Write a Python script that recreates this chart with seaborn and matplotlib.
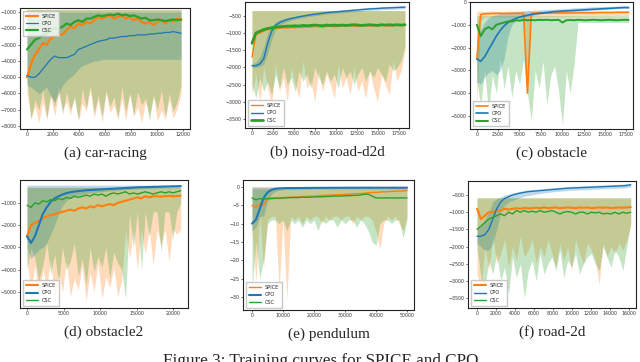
import numpy as np
import matplotlib
matplotlib.use("Agg")
import matplotlib.pyplot as plt
import seaborn as sns

C_SPICE, C_CPO, C_CSC = "#ff7f0e", "#1f77b4", "#2ca02c"
NAMES = ["SPICE", "CPO", "CSC"]

# ---------------- (a) car-racing ----------------
car_step = 304
car_spice = [-5000, -4200, -3600, -3300, -2900, -3000, -2600, -2500, -2300, -2400,
             -2100, -1900, -2000, -1700, -1800, -1600, -1700, -1500, -1300, -1400,
             -1300, -1200, -1400, -1300, -1200, -1400, -1300, -1500, -1400, -1600,
             -1700, -1600, -1800, -1600, -1500, -1700, -1500, -1600, -1400, -1500]
car_cpo = [-4900, -5000, -5000, -4800, -4500, -4200, -3900, -3700, -3800, -3800,
           -3800, -3700, -3600, -3300, -3200, -3100, -3000, -2900, -2800, -2750,
           -2700, -2600, -2600, -2550, -2500, -2500, -2450, -2450, -2400, -2400,
           -2400, -2350, -2350, -2300, -2300, -2250, -2250, -2200, -2250, -2300]
car_csc = [-3300, -3000, -2700, -2600, -2400, -2300, -2100, -2000, -2000, -1900,
           -1700, -1800, -1600, -1500, -1600, -1400, -1400, -1300, -1200, -1250,
           -1200, -1150, -1200, -1100, -1200, -1150, -1250, -1200, -1300, -1400,
           -1350, -1500, -1500, -1450, -1500, -1550, -1500, -1450, -1500, -1450]
car_spice_lo = [-6000, -7500, -6800, -7800, -6500, -7600, -6200, -7400, -6000, -7000,
                -6500, -7300, -6100, -7700, -6600, -7100, -5800, -7500, -6400, -7800,
                -6000, -7200, -6700, -7600, -6300, -7700, -6000, -7400, -6800, -7800,
                -6500, -7300, -6200, -7700, -7000, -7600, -6400, -7500, -6900, -6000]
car_cpo_lo = [-5500, -5600, -5800, -6000, -5800, -5600, -6200, -6500, -6000, -5500,
              -5200, -5000, -4800, -4500, -4300, -4200, -4100, -4000, -4000, -3900,
              -3900, -3900, -3900, -3900, -3900, -3900, -3900, -3900, -3900, -3900,
              -3900, -3900, -3900, -3900, -3900, -3900, -3900, -3900, -3900, -3900]
car_csc_lo = [-5200, -7600, -6400, -7000, -5800, -7500, -6000, -6800, -5600, -7300,
              -5900, -7000, -6300, -7600, -5700, -6900, -5500, -7200, -6100, -7400,
              -5800, -6800, -6200, -7500, -5600, -7100, -6000, -7300, -5900, -6700,
              -6300, -7700, -6100, -7000, -5800, -7400, -6000, -7100, -6500, -5500]
car_spice_hi, car_cpo_hi, car_csc_hi = -850, -1000, -850

# ---------------- (b) noisy-road-d2d ----------------
nrd_step = 467
nrd_spice = [-1700, -1050, -1000, -950, -900, -880, -870, -860, -850, -860,
             -840, -850, -830, -840, -820, -830, -810, -820, -830, -810,
             -800, -820, -810, -800, -810, -790, -800, -810, -800, -790,
             -800, -790, -800, -780, -790, -800, -790, -780, -790, -770]
nrd_cpo = [-1950, -1950, -1900, -1750, -1300, -950, -780, -700, -650, -610,
           -580, -555, -530, -510, -490, -470, -455, -440, -425, -410,
           -400, -390, -380, -370, -360, -350, -340, -330, -320, -310,
           -300, -295, -290, -280, -275, -270, -265, -260, -255, -250]
nrd_csc = [-1300, -1000, -950, -900, -870, -850, -830, -820, -810, -800,
           -800, -790, -800, -780, -790, -780, -770, -780, -790, -770,
           -780, -770, -780, -770, -780, -770, -760, -770, -780, -770,
           -760, -770, -780, -760, -770, -760, -770, -760, -770, -760]
nrd_spice_lo = [-2800, -2200, -3000, -2000, -2600, -3100, -1900, -2700, -2300, -3000,
                -2000, -2500, -2900, -1800, -2600, -2400, -3000, -2100, -2700, -2200,
                -2500, -2900, -1900, -2600, -2300, -2800, -2000, -2700, -2400, -2900,
                -2100, -2600, -3000, -2200, -2500, -2800, -1800, -2400, -2100, -1500]
nrd_cpo_lo = [-2000, -2000, -1980, -1900, -1600, -1200, -900, -780, -720, -670,
              -630, -600, -575, -555, -535, -515, -500, -485, -470, -455,
              -445, -435, -425, -415, -405, -395, -385, -375, -365, -355,
              -345, -340, -335, -325, -320, -315, -310, -305, -300, -295]
nrd_csc_lo = [-2500, -2900, -2300, -2700, -2400, -2800, -2200, -2600, -2000, -2500,
              -2300, -2700, -2100, -2400, -2200, -2600, -2000, -2300, -2500, -2100,
              -2400, -2200, -2600, -2000, -2300, -2100, -2500, -2200, -2000, -2400,
              -2100, -2300, -2000, -2200, -2400, -1900, -2100, -2000, -1800, -1400]
nrd_cpo_hi = [-1900, -1850, -1700, -1400, -1000, -800, -680, -620, -580, -550,
              -530, -510, -490, -465, -445, -425, -410, -395, -380, -365,
              -355, -345, -335, -325, -315, -305, -295, -285, -275, -265,
              -255, -250, -245, -235, -230, -225, -220, -215, -210, -205]
nrd_spice_hi, nrd_csc_hi = -350, -350

# ---------------- (c) obstacle ----------------
obs_step = 456
obs_spice = [-2500, -550, -520, -510, -500, -500, -500, -500, -500, -500,
             -500, -500, -500, -4000, -500, -490, -490, -490, -490, -490,
             -480, -480, -480, -480, -480, -480, -470, -470, -470, -470,
             -470, -460, -460, -460, -460, -460, -450, -450, -450, -450]
obs_cpo = [-2500, -2600, -2400, -2100, -1800, -1500, -1250, -1050, -900, -800,
           -720, -660, -620, -580, -550, -520, -500, -480, -460, -440,
           -420, -410, -400, -390, -380, -370, -360, -350, -340, -330,
           -320, -310, -300, -290, -280, -270, -260, -250, -240, -250]
obs_csc = [-1000, -1500, -1200, -1100, -1200, -1000, -950, -900, -850, -850,
           -800, -820, -780, -800, -790, -800, -780, -790, -780, -800,
           -790, -780, -900, -800, -790, -800, -780, -790, -800, -790,
           -780, -790, -800, -790, -780, -790, -800, -790, -780, -790]
obs_spice_lo = [-4500, -800, -650, -650, -650, -650, -650, -650, -650, -650,
                -650, -650, -650, -4000, -650, -640, -640, -640, -640, -640,
                -630, -630, -630, -630, -630, -630, -620, -620, -620, -620,
                -620, -610, -610, -610, -610, -610, -600, -600, -600, -600]
obs_cpo_lo = [-3500, -3600, -3300, -3100, -3000, -3200, -3000, -2500, -1500, -1000,
              -820, -740, -690, -640, -600, -570, -545, -520, -500, -480,
              -460, -450, -440, -430, -420, -410, -400, -390, -380, -370,
              -360, -350, -340, -330, -320, -310, -300, -290, -280, -290]
obs_csc_lo = [-3500, -4500, -3000, -4800, -3200, -4000, -2500, -3800, -2800, -4200,
              -3000, -3600, -2500, -4000, -5200, -3000, -3800, -2600, -4500, -3200,
              -2800, -3900, -5400, -3000, -4000, -2700, -900, -900, -900, -900,
              -900, -900, -900, -900, -900, -900, -900, -900, -900, -900]
obs_cpo_hi = [-1500, -1200, -900, -700, -600, -550, -500, -470, -450, -430,
              -410, -400, -390, -380, -370, -360, -350, -340, -330, -320,
              -310, -300, -290, -280, -270, -260, -250, -240, -230, -220,
              -210, -205, -200, -195, -190, -185, -180, -175, -170, -175]
obs_spice_hi, obs_csc_hi = -400, -600

# ---------------- (d) obstacle2 ----------------
ob2_step = 540
ob2_spice = [-2500, -2000, -1900, -1800, -1700, -1600, -1550, -1500, -1450, -1400,
             -1350, -1300, -1350, -1250, -1200, -1250, -1150, -1200, -1100, -1150,
             -1100, -1050, -1100, -1000, -950, -900, -850, -800, -750, -800,
             -700, -750, -700, -700, -720, -700, -680, -700, -690, -680]
ob2_cpo = [-2500, -2800, -2500, -2000, -1500, -1200, -950, -800, -700, -620,
           -560, -520, -490, -470, -450, -430, -420, -410, -400, -390,
           -380, -370, -360, -350, -340, -330, -320, -310, -300, -295,
           -290, -285, -280, -275, -270, -265, -260, -255, -250, -245]
ob2_csc = [-1100, -1200, -1000, -1050, -900, -950, -850, -900, -800, -850,
           -750, -800, -700, -750, -700, -650, -700, -600, -650, -600,
           -700, -600, -550, -600, -550, -500, -600, -550, -600, -550,
           -500, -550, -600, -550, -500, -550, -500, -550, -500, -450]
ob2_spice_lo = [-3500, -5000, -3800, -5300, -4000, -4800, -3500, -5500, -4200, -5000,
                -3600, -5200, -4400, -4900, -3800, -5400, -4100, -5000, -3700, -5300,
                -4300, -4800, -3900, -5200, -4500, -2200, -3500, -2200, -4000, -2200,
                -3300, -2200, -3800, -2200, -2900, -2200, -3600, -2200, -2400, -2200]
ob2_cpo_lo = [-3000, -3500, -3300, -3100, -3000, -2800, -2400, -2000, -1500, -1100,
              -900, -780, -700, -650, -610, -570, -550, -530, -510, -490,
              -475, -460, -445, -430, -415, -400, -390, -380, -370, -360,
              -355, -350, -345, -340, -335, -330, -325, -320, -315, -310]
ob2_csc_lo = [-4000, -3000, -3500, -4500, -3800, -2800, -4200, -3300, -4600, -3000,
              -4000, -3600, -2800, -4300, -3500, -4700, -3000, -4100, -3400, -3900,
              -3000, -4400, -3200, -3700, -4000, -5300, -1500, -3000, -1400, -4000,
              -1400, -2500, -1400, -1400, -3200, -1400, -1400, -2600, -1400, -1000]
ob2_spice_hi, ob2_cpo_hi, ob2_csc_hi = -300, -200, -300

# ---------------- (e) pendulum ----------------
pen_step = 1250
pen_spice = [-5, -5.5, -4.5, -5, -3, -3, -3, -3.2, -3, -2.8,
             -2.8, -2.7, -2.7, -2.6, -2.6, -2.5, -2.5, -2.4, -2.3, -2.3,
             -2.2, -2.2, -2.1, -2.1, -2, -2, -1.9, -1.8, -1.8, -1.7,
             -1.6, -1.5, -1.5, -1.4, -1.3, -1.3, -1.2, -1.2, -1.1, -1.1, -1]
pen_cpo = [-10, -9, -6, -3, -1.5, -0.8, -0.5, -0.4, -0.35, -0.3,
           -0.3, -0.3, -0.28, -0.28, -0.26, -0.26, -0.25, -0.25, -0.24, -0.24,
           -0.23, -0.23, -0.22, -0.22, -0.22, -0.21, -0.21, -0.21, -0.2, -0.2,
           -0.2, -0.2, -0.2, -0.2, -0.2, -0.2, -0.2, -0.2, -0.2, -0.2, -0.2]
pen_csc = [-3, -3.5, -3.2, -3.3, -3.2, -3.2, -3.1, -3, -3, -3,
           -2.9, -2.9, -2.9, -2.8, -2.8, -2.8, -2.7, -2.7, -2.7, -2.6,
           -2.6, -2.5, -2.5, -2.5, -2.4, -2.4, -2.3, -2.3, -2.2, -2.0,
           -2.0, -2.5, -3, -3, -3, -3, -3, -3, -3, -3, -3]
pen_spice_lo = [-12, -26, -8, -22, -9, -8, -8, -28, -9, -31,
                -8, -9, -8, -10, -8, -9, -8, -8, -10, -8,
                -9, -8, -8, -9, -8, -8, -10, -8, -9, -8,
                -8, -9, -12, -17, -10, -8, -9, -8, -10, -12, -8]
pen_cpo_lo = [-12, -11, -8, -8, -4, -2, -1.2, -0.9, -0.8, -0.7,
              -0.7, -0.7, -0.7, -0.7, -0.7, -0.7, -0.6, -0.6, -0.6, -0.6,
              -0.6, -0.6, -0.6, -0.6, -0.6, -0.6, -0.6, -0.6, -0.6, -0.6,
              -0.6, -0.6, -0.6, -0.6, -0.6, -0.6, -0.6, -0.6, -0.6, -0.6, -0.6]
pen_csc_lo = [-28, -15, -25, -20, -10, -9, -9, -10, -9, -12,
              -9, -10, -9, -11, -9, -10, -9, -12, -9, -10,
              -9, -9, -11, -9, -10, -9, -9, -11, -9, -10,
              -12, -15, -16, -10, -9, -9, -10, -9, -9, -14, -9]
pen_spice_hi, pen_cpo_hi, pen_csc_hi = 0, 0, -0.5

# ---------------- (f) road-2d ----------------
r2d_step = 415
r2d_spice = [-900, -1200, -1100, -1000, -1000, -950, -950, -900, -920, -900,
             -880, -900, -870, -890, -880, -870, -880, -860, -880, -870,
             -860, -880, -870, -860, -870, -880, -860, -870, -860, -880,
             -870, -860, -870, -860, -880, -870, -860, -870, -860, -850]
r2d_cpo = [-1700, -1700, -1650, -1500, -1200, -900, -700, -600, -550, -500,
           -470, -440, -420, -400, -390, -380, -370, -360, -350, -340,
           -330, -320, -310, -300, -295, -290, -285, -280, -275, -270,
           -265, -260, -255, -250, -245, -240, -235, -230, -220, -200]
r2d_csc = [-1500, -1400, -1300, -1200, -1150, -1100, -1050, -1100, -1000, -1050,
           -950, -1000, -950, -1000, -970, -1000, -950, -1000, -980, -950,
           -1000, -1050, -1000, -980, -1000, -1050, -1000, -1000, -1050, -1000,
           -1020, -1000, -1050, -1030, -1050, -1000, -1050, -1000, -1030, -1000]
r2d_spice_lo = [-2800, -3200, -2000, -2700, -1700, -2500, -2200, -1800, -2600, -2000,
                -2400, -1700, -2300, -2100, -1800, -2500, -2000, -2300, -1800, -2200,
                -2600, -1900, -2400, -2000, -2700, -1800, -2200, -2500, -1900, -2100,
                -2400, -3100, -1900, -2300, -2000, -2200, -1900, -2100, -1800, -1400]
r2d_cpo_lo = [-1900, -2000, -2100, -2100, -1900, -1500, -1000, -800, -700, -650,
              -610, -570, -540, -510, -490, -470, -455, -440, -425, -410,
              -400, -390, -380, -370, -360, -355, -350, -345, -340, -335,
              -330, -325, -320, -315, -310, -305, -300, -295, -285, -265]
r2d_csc_lo = [-2000, -2900, -3200, -2400, -2800, -2200, -3000, -2600, -3400, -2300,
              -2900, -2500, -3500, -2700, -2400, -3000, -2200, -2800, -2500, -2300,
              -2700, -2100, -2900, -2400, -2600, -2200, -2800, -2500, -2300, -2200,
              -2500, -2700, -2000, -2300, -2600, -2100, -2300, -2700, -2000, -1300]
r2d_cpo_hi = [-1500, -1400, -1200, -1000, -700, -600, -550, -500, -470, -440,
              -410, -390, -370, -350, -340, -330, -320, -310, -300, -290,
              -280, -270, -260, -250, -245, -240, -235, -230, -225, -220,
              -215, -210, -205, -200, -195, -190, -185, -180, -170, -150]
r2d_spice_hi, r2d_csc_hi = -580, -580

panels = [
    # caption, step, (mean, lo, hi) per series, line widths, xlim, ylim, xticks, yticks, legend loc, axes box (px)
    ("(a) car-racing", car_step,
     [(car_spice, car_spice_lo, car_spice_hi), (car_cpo, car_cpo_lo, car_cpo_hi), (car_csc, car_csc_lo, car_csc_hi)],
     [1.6, 0.9, 1.6], (-540, 12540), (-8180, -750), np.arange(0, 12001, 2000),
     np.arange(-8000, -999, 1000), "upper left", (20, 8, 190, 129)),
    ("(b) noisy-road-d2d", nrd_step,
     [(nrd_spice, nrd_spice_lo, nrd_spice_hi), (nrd_cpo, nrd_cpo_lo, nrd_cpo_hi), (nrd_csc, nrd_csc_lo, nrd_csc_hi)],
     [1.0, 1.0, 2.0], (-830, 18690), (-3760, -100), np.arange(0, 17501, 2500),
     np.arange(-3500, -499, 500), "lower left", (245, 2, 409, 128)),
    ("(c) obstacle", obs_step,
     [(obs_spice, obs_spice_lo, obs_spice_hi), (obs_cpo, obs_cpo_lo, obs_cpo_hi), (obs_csc, obs_csc_lo, obs_csc_hi)],
     [1.2, 1.2, 1.4], (-800, 18300), (-5570, 0), np.arange(0, 17501, 2500),
     np.arange(-5000, 1, 1000), "lower left", (470, 2, 633, 129)),
    ("(d) obstacle2", ob2_step,
     [(ob2_spice, ob2_spice_lo, ob2_spice_hi), (ob2_cpo, ob2_cpo_lo, ob2_cpo_hi), (ob2_csc, ob2_csc_lo, ob2_csc_hi)],
     [1.5, 1.5, 1.0], (-960, 22050), (-5720, 30), np.arange(0, 20001, 5000),
     np.arange(-5000, -999, 1000), "lower left", (20, 180, 188, 308)),
    ("(e) pendulum", pen_step,
     [(pen_spice, pen_spice_lo, pen_spice_hi), (pen_cpo, pen_cpo_lo, pen_cpo_hi), (pen_csc, pen_csc_lo, pen_csc_hi)],
     [1.0, 1.5, 1.0], (-2900, 52260), (-33.6, 1.9), np.arange(0, 50001, 10000),
     np.arange(-30, 1, 5), "lower left", (243, 180, 414, 310)),
    ("(f) road-2d", r2d_step,
     [(r2d_spice, r2d_spice_lo, r2d_spice_hi), (r2d_cpo, r2d_cpo_lo, r2d_cpo_hi), (r2d_csc, r2d_csc_lo, r2d_csc_hi)],
     [1.5, 1.0, 1.0], (-950, 16740), (-3790, -90), np.arange(0, 16001, 2000),
     np.arange(-3500, -499, 500), "lower left", (468, 181, 636, 308)),
]

sns.set_style("ticks")
plt.rcParams['font.family'] = ['DejaVu Sans']

W, H = 640, 362
fig = plt.figure(figsize=(W / 100, H / 100), dpi=100)
colors = [C_SPICE, C_CPO, C_CSC]

for cap, step, series, lws, xl, yl, xt, yt, loc, box in panels:
    x0, y0, x1, y1 = box
    ax = fig.add_axes([x0 / W, 1 - y1 / H, (x1 - x0) / W, (y1 - y0) / H])
    # bands first
    for (mean, lo, hi), col in zip(series, colors):
        x = np.arange(len(mean)) * step
        ax.fill_between(x, lo, hi, color=col, alpha=0.28, lw=0)
    for (mean, lo, hi), col, lw, name in zip(series, colors, lws, NAMES):
        x = np.arange(len(mean)) * step
        sns.lineplot(x=x, y=mean, ax=ax, color=col, lw=lw, label=name)
    ax.set_xlim(*xl)
    ax.set_ylim(*yl)
    ax.set_xticks(xt)
    ax.set_yticks(yt)
    ax.tick_params(labelsize=3.4, length=1.5, width=0.5, pad=1, colors="#333333")
    for sp in ax.spines.values():
        sp.set_linewidth(0.8)
        sp.set_color("#222222")
    ax.set_xlabel("")
    ax.set_ylabel("")
    ax.legend(loc=loc, fontsize=3.6, frameon=True, handlelength=2.4, borderpad=0.6,
              labelspacing=0.45, fancybox=False, edgecolor="#bbbbbb")
    cx = (x0 + x1) / 2
    fig.text(cx / W, 1 - (y1 + 24) / H, cap, ha="center", va="center",
             fontsize=11, family="Liberation Serif")

fig.text(0.505, 1 - 365 / H, "Figure 3: Training curves for SPICE and CPO.",
         ha="center", va="baseline", fontsize=12.3, family="Liberation Serif")

fig.savefig("out.png", dpi=100)
